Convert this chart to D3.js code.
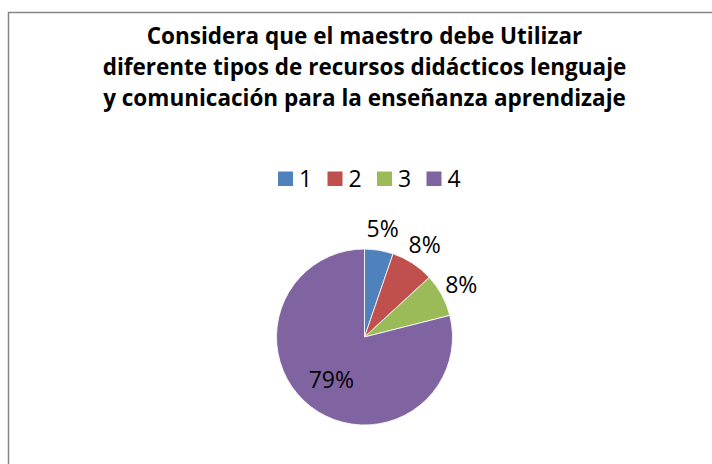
<!DOCTYPE html>
<html>
<head>
<meta charset="utf-8">
<script src="https://cdn.jsdelivr.net/npm/d3@7"></script>
<style>
  html, body { margin: 0; padding: 0; background: #fff; }
  svg { display: block; }
</style>
</head>
<body>
<div id="chart"></div>
<script>
// Chart data
const categories = ['1', '2', '3', '4'];
const values = [2, 3, 3, 30];
const colors = ['#4F81BD', '#C0504D', '#9BBB59', '#8064A2'];
const titleLines = [
  'Considera que el maestro debe Utilizar',
  'diferente tipos de recursos didácticos lenguaje',
  'y comunicación para la enseñanza aprendizaje'
];

const width = 712, height = 464;
const cx = 364.5, cy = 337, radius = 88;

const svg = d3.select('#chart').append('svg')
    .attr('width', width)
    .attr('height', height);

// chart area border
svg.append('rect')
    .attr('x', 8.5)
    .attr('y', 12.5)
    .attr('width', width)
    .attr('height', height)
    .attr('fill', '#fff')
    .attr('stroke', '#868686')
    .attr('stroke-width', 1.5);

// Title
svg.append('g')
  .selectAll('text')
  .data(titleLines)
  .join('text')
    .attr('x', cx)
    .attr('y', (d, i) => 44 + i * 31)
    .attr('text-anchor', 'middle')
    .attr('font-family', '"Open Sans", sans-serif')
    .attr('font-weight', 'bold')
    .attr('font-size', 22.5)
    .attr('fill', '#000')
    .text(d => d);

// Legend
const legendX = d3.scaleBand()
    .domain(categories)
    .range([278, 278 + 49.5 * categories.length]);

const legend = svg.append('g')
    .attr('transform', 'translate(0,171.5)');

const item = legend.selectAll('g')
  .data(categories)
  .join('g')
    .attr('transform', d => `translate(${legendX(d)},0)`);

item.append('rect')
    .attr('width', 15)
    .attr('height', 14.5)
    .attr('fill', (d, i) => colors[i]);

item.append('text')
    .attr('x', 21)
    .attr('y', 15.5)
    .attr('font-family', '"Open Sans", sans-serif')
    .attr('font-size', 23)
    .attr('fill', '#000')
    .text(d => d);

// Pie
const total = d3.sum(values);
const pie = d3.pie().sort(null).value(d => d);
const arcs = pie(values);

const arc = d3.arc().innerRadius(0).outerRadius(radius);
const outsideArc = d3.arc().innerRadius(110).outerRadius(110);
const insideArc = d3.arc().innerRadius(54).outerRadius(54);

const g = svg.append('g')
    .attr('transform', `translate(${cx},${cy})`);

g.selectAll('path')
  .data(arcs)
  .join('path')
    .attr('d', arc)
    .attr('fill', (d, i) => colors[i])
    .attr('stroke', '#fff')
    .attr('stroke-width', 0.8);

g.selectAll('text.label')
  .data(arcs)
  .join('text')
    .attr('class', 'label')
    .attr('transform', d => {
      const a = (d.endAngle - d.startAngle) > Math.PI ? insideArc : outsideArc;
      const [x, y] = a.centroid(d);
      return `translate(${x},${y})`;
    })
    .attr('text-anchor', 'middle')
    .attr('dy', '0.36em')
    .attr('font-family', '"Open Sans", sans-serif')
    .attr('font-size', 23)
    .attr('fill', '#000')
    .text(d => Math.round(d.value / total * 100) + '%');
</script>
</body>
</html>
